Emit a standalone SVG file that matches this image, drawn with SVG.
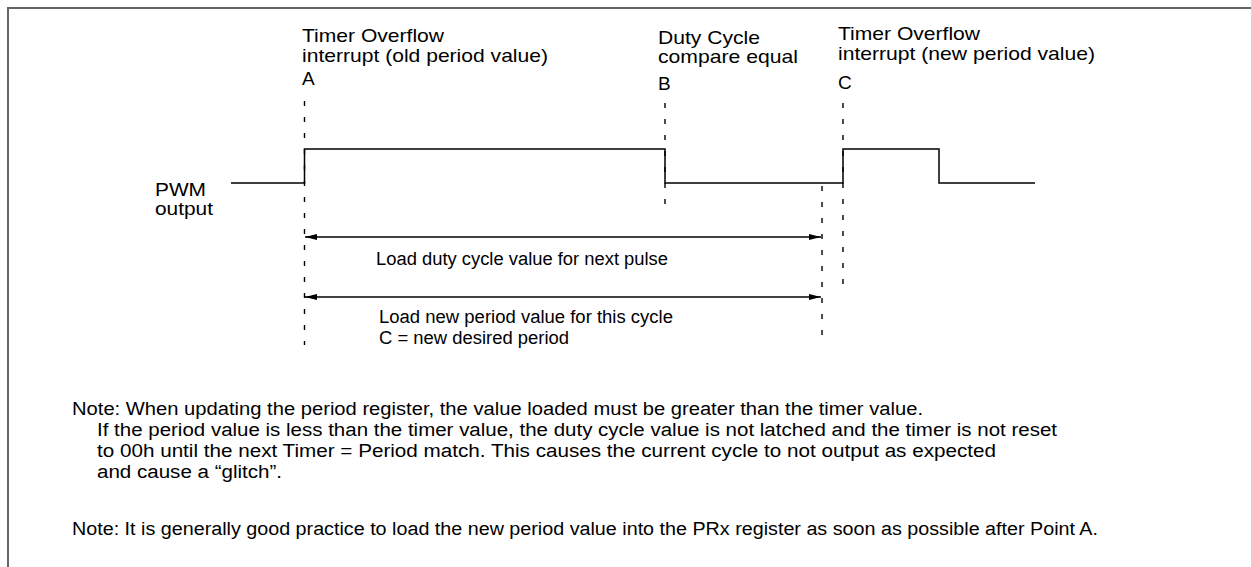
<svg xmlns="http://www.w3.org/2000/svg" width="1251" height="567" viewBox="0 0 1251 567">
  <style>
    text { font-family: "Liberation Sans", Arial, sans-serif; fill: #000; }
    .lbl { font-size: 19px; }
    .mid { font-size: 18px; }
    .note { font-size: 18px; }
    .sig { fill: none; stroke: #000; stroke-width: 1.5; }
    .dash { fill: none; stroke: #000; stroke-width: 1.4; stroke-dasharray: 5 11; }
    .dim { fill: none; stroke: #000; stroke-width: 1.4; }
  </style>
  <defs>
    <marker id="ah" viewBox="0 0 12 6" refX="12" refY="3" markerWidth="12" markerHeight="6" markerUnits="userSpaceOnUse" orient="auto-start-reverse">
      <path d="M0,0 L12,3 L0,6 z" fill="#000"/>
    </marker>
  </defs>

  <rect width="1251" height="567" fill="#fff"/>

  <!-- frame -->
  <path d="M8,567 V8 H1251" fill="none" stroke="#666" stroke-width="2"/>

  <!-- event labels -->
  <g id="label-a">
    <text class="lbl" x="302" y="42" textLength="142" lengthAdjust="spacingAndGlyphs">Timer Overflow</text>
    <text class="lbl" x="302" y="62" textLength="246" lengthAdjust="spacingAndGlyphs">interrupt (old period value)</text>
    <text class="lbl" x="302" y="85">A</text>
  </g>
  <g id="label-b">
    <text class="lbl" x="658" y="44" textLength="102" lengthAdjust="spacingAndGlyphs">Duty Cycle</text>
    <text class="lbl" x="658" y="63" textLength="140" lengthAdjust="spacingAndGlyphs">compare equal</text>
    <text class="lbl" x="658" y="90">B</text>
  </g>
  <g id="label-c">
    <text class="lbl" x="838" y="40" textLength="142" lengthAdjust="spacingAndGlyphs">Timer Overflow</text>
    <text class="lbl" x="838" y="60" textLength="257" lengthAdjust="spacingAndGlyphs">interrupt (new period value)</text>
    <text class="lbl" x="838" y="89">C</text>
  </g>

  <g id="pwm-label">
    <text class="lbl" x="155" y="196" textLength="51" lengthAdjust="spacingAndGlyphs">PWM</text>
    <text class="lbl" x="155" y="215" textLength="58" lengthAdjust="spacingAndGlyphs">output</text>
  </g>

  <!-- PWM waveform -->
  <g id="pwm-signal">
    <path class="sig" d="M231,183 H304.5 V149 H665 V183 H843 V149 H939 V183 H1035"/>
  </g>

  <!-- connectors: event markers and load windows -->
  <g id="connectors">
    <line class="dash" x1="304.5" y1="101" x2="304.5" y2="345"/>
    <line class="dash" x1="665" y1="103" x2="665" y2="208"/>
    <line class="dash" x1="843" y1="103" x2="843" y2="292"/>
    <line class="dash" x1="822" y1="186" x2="822" y2="345"/>
    <line class="dim" x1="305" y1="237" x2="821" y2="237" marker-start="url(#ah)" marker-end="url(#ah)"/>
    <line class="dim" x1="305" y1="297" x2="821" y2="297" marker-start="url(#ah)" marker-end="url(#ah)"/>
  </g>

  <g id="window-labels">
    <text class="mid" x="376" y="265" textLength="292" lengthAdjust="spacingAndGlyphs">Load duty cycle value for next pulse</text>
    <text class="mid" x="379" y="323" textLength="294" lengthAdjust="spacingAndGlyphs">Load new period value for this cycle</text>
    <text class="mid" x="379" y="344" textLength="190" lengthAdjust="spacingAndGlyphs">C = new desired period</text>
  </g>

  <!-- notes -->
  <g id="notes">
    <text class="note" x="72" y="415" textLength="851" lengthAdjust="spacingAndGlyphs">Note: When updating the period register, the value loaded must be greater than the timer value.</text>
    <text class="note" x="97" y="436" textLength="960" lengthAdjust="spacingAndGlyphs">If the period value is less than the timer value, the duty cycle value is not latched and the timer is not reset</text>
    <text class="note" x="97" y="457" textLength="899" lengthAdjust="spacingAndGlyphs">to 00h until the next Timer = Period match. This causes the current cycle to not output as expected</text>
    <text class="note" x="97" y="478" textLength="185" lengthAdjust="spacingAndGlyphs">and cause a “glitch”.</text>
    <text class="note" x="72" y="535" textLength="1026" lengthAdjust="spacingAndGlyphs">Note: It is generally good practice to load the new period value into the PRx register as soon as possible after Point A.</text>
  </g>
</svg>
